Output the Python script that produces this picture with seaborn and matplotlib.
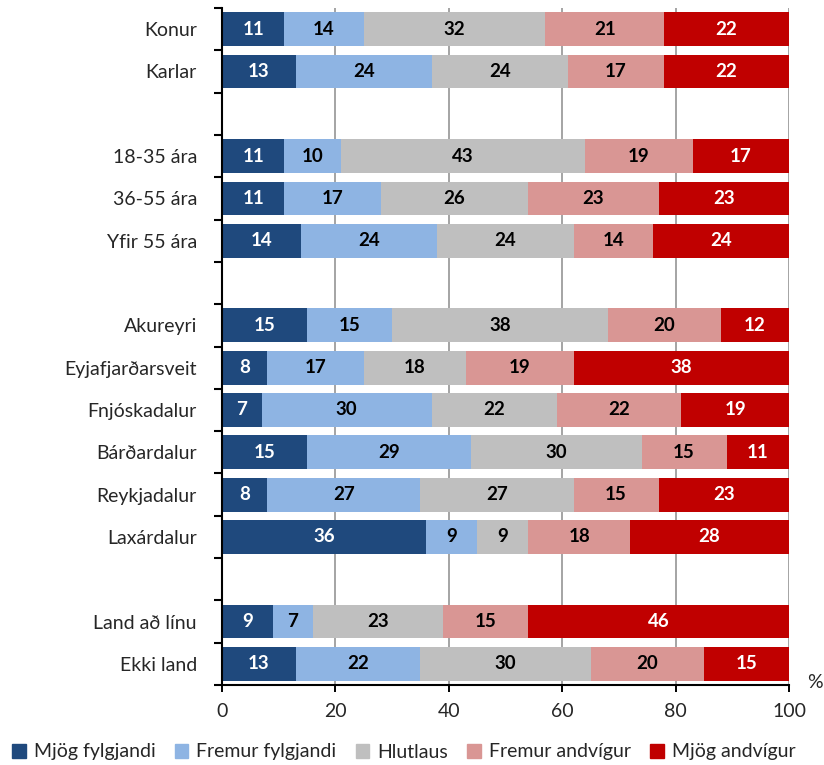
import numpy as np
import pandas as pd
import matplotlib.pyplot as plt
import matplotlib.patches as mpatches
import seaborn as sns

# data (percent)
categories = ['Konur', 'Karlar', '18-35 ára', '36-55 ára', 'Yfir 55 ára',
              'Akureyri', 'Eyjafjarðarsveit', 'Fnjóskadalur', 'Bárðardalur',
              'Reykjadalur', 'Laxárdalur', 'Land að línu', 'Ekki land']
group = [0, 0, 1, 1, 1, 2, 2, 2, 2, 2, 2, 3, 3]
series_names = ['Mjög fylgjandi', 'Fremur fylgjandi', 'Hlutlaus',
                'Fremur andvígur', 'Mjög andvígur']
mjog_fylgjandi = [11, 13, 11, 11, 14, 15, 8, 7, 15, 8, 36, 9, 13]
fremur_fylgjandi = [14, 24, 10, 17, 24, 15, 17, 30, 29, 27, 9, 7, 22]
hlutlaus = [32, 24, 43, 26, 24, 38, 18, 22, 30, 27, 9, 23, 30]
fremur_andvigur = [21, 17, 19, 23, 14, 20, 19, 22, 15, 15, 18, 15, 20]
mjog_andvigur = [22, 22, 17, 23, 24, 12, 38, 19, 11, 23, 28, 46, 15]

colors = ['#1F497D', '#8EB4E3', '#BFBFBF', '#D99694', '#C00000']
text_colors = ['white', 'black', 'black', 'black', 'white']

sns.set_theme(style='ticks')
plt.rcParams['font.family'] = ['Lato', 'DejaVu Sans']

# build rows with blank spacer rows between groups
rows = []
gap_n = 0
for i, cat in enumerate(categories):
    if i > 0 and group[i] != group[i - 1]:
        gap_n += 1
        rows.append((' ' * gap_n, [0, 0, 0, 0, 0]))
    rows.append((cat, [mjog_fylgjandi[i], fremur_fylgjandi[i], hlutlaus[i],
                       fremur_andvigur[i], mjog_andvigur[i]]))

df = pd.DataFrame([r[1] for r in rows], columns=series_names)
df['row'] = [r[0] for r in rows]
cum = df[series_names].cumsum(axis=1)
cum['row'] = df['row']
order = list(df['row'])

fig = plt.figure(figsize=(8.24, 7.65), dpi=100)
ax = fig.add_axes([0.2694, 0.1046, 0.6881, 0.8849])
ax.set_axisbelow(True)

# overlay cumulative bars from the right-most segment back
for name, col in reversed(list(zip(series_names, colors))):
    sns.barplot(data=cum, x=name, y='row', order=order, orient='h',
                color=col, width=0.8, saturation=1, ax=ax, linewidth=0)

for j, name in enumerate(series_names):
    for k in range(len(df)):
        v = df[name].iloc[k]
        if v > 0:
            ax.text(cum[name].iloc[k] - v / 2, k, str(v), ha='center', va='center',
                    color=text_colors[j], fontsize=13.5, fontweight='bold')

ax.xaxis.grid(True, color='#8c8c8c', linewidth=1.1)
ax.set_xlim(0, 100)
ax.set_ylim(len(order) - 0.5, -0.5)
ax.set_xticks([0, 20, 40, 60, 80, 100])
ax.set_xlabel('')
ax.set_ylabel('')
# tick marks between rows, labels at row centres
ax.set_yticks(np.arange(len(order) + 1) - 0.5)
ax.set_yticklabels([''] * (len(order) + 1))
ax.set_yticks(range(len(order)), labels=order, minor=True)
ax.tick_params(axis='y', which='major', left=True, length=6, width=1.5,
               direction='out', color='black')
ax.tick_params(axis='y', which='minor', left=True, length=0, pad=18, labelsize=14)
ax.tick_params(axis='x', length=5, width=1.4, direction='out', color='black', bottom=True,
               labelsize=14, pad=8)
for s in ['top', 'right']:
    ax.spines[s].set_visible(False)
for s in ['left', 'bottom']:
    ax.spines[s].set_color('black')
    ax.spines[s].set_linewidth(1.5)

fig.text(815 / 824, 1 - 683 / 765, '%', ha='center', va='center', fontsize=14)

handles = [mpatches.Patch(color=c, label=n) for n, c in zip(series_names, colors)]
fig.legend(handles=handles, loc='center', bbox_to_anchor=(0.49, 1 - 752 / 765), ncol=5,
           frameon=False, fontsize=14, handlelength=0.7, handleheight=0.7,
           handletextpad=0.4, columnspacing=1.0)

fig.savefig('out.png', dpi=100)
